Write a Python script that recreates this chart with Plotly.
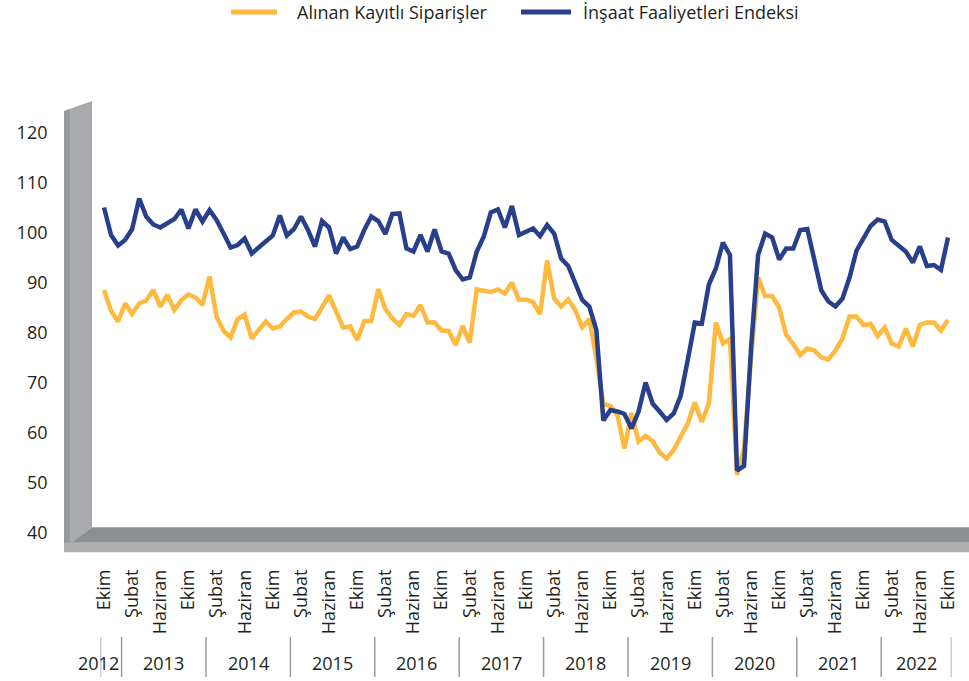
import plotly.graph_objects as go

# ---------------- data ----------------
series_names = ["Alınan Kayıtlı Siparişler", "İnşaat Faaliyetleri Endeksi"]

# monthly values, Ekim 2012 ... Ekim 2022
alinan_siparisler = [
    88.6, 84.4, 82.3, 85.9, 83.8, 85.9, 86.5, 88.6, 85.3, 87.6, 84.6, 86.6,
    87.7, 87.1, 85.6, 91.3, 83.3, 80.4, 79.1, 82.8, 83.7, 78.9, 80.6, 82.3,
    80.9, 81.3, 82.8, 84.1, 84.3, 83.3, 82.8, 85.3, 87.5, 84.3, 81.1, 81.3,
    78.6, 82.4, 82.4, 88.8, 84.8, 82.9, 81.6, 83.8, 83.4, 85.6, 82.1, 82.1,
    80.5, 80.4, 77.6, 81.4, 78.1, 88.7, 88.5, 88.2, 88.7, 87.9, 90.1, 86.6,
    86.7, 86.2, 83.8, 94.5, 86.9, 85.3, 86.7, 84.6, 81.1, 82.8, 75.0, 65.8,
    65.4, 63.6, 56.9, 64.0, 58.3, 59.4, 58.4, 56.1, 54.9, 56.6, 59.3, 61.9,
    66.1, 62.2, 65.9, 82.1, 77.9, 78.8, 51.6, 57.0, 75.0, 91.1, 87.4, 87.4,
    85.1, 79.6, 77.8, 75.6, 76.9, 76.5, 75.1, 74.7, 76.5, 78.9, 83.3, 83.3,
    81.6, 81.8, 79.4, 81.1, 77.9, 77.3, 80.9, 77.3, 81.6, 82.1, 82.1, 80.5,
    82.6,
]
insaat_endeksi = [
    105.1, 99.6, 97.5, 98.6, 100.8, 106.9, 103.3, 101.7, 101.1, 101.9, 102.8, 104.7,
    100.9, 104.7, 102.3, 104.6, 102.6, 99.9, 97.1, 97.6, 98.9, 95.9, 97.1, 98.4,
    99.5, 103.5, 99.5, 100.8, 103.3, 100.6, 97.3, 102.4, 101.1, 95.9, 99.1, 96.8,
    97.3, 100.6, 103.3, 102.4, 99.8, 103.8, 103.9, 96.9, 96.3, 99.6, 96.3, 100.7,
    96.3, 95.9, 92.6, 90.7, 91.1, 96.3, 99.3, 104.1, 104.7, 101.1, 105.4, 99.6,
    100.3, 100.9, 99.4, 101.6, 99.9, 94.9, 93.4, 89.9, 86.6, 85.3, 80.6, 62.5,
    64.6, 64.3, 63.8, 60.9, 64.3, 70.1, 65.9, 64.3, 62.6, 63.9, 67.5, 74.6,
    82.1, 81.9, 89.7, 92.9, 98.1, 95.6, 52.5, 53.4, 77.0, 95.6, 99.9, 99.1,
    94.7, 96.9, 96.9, 100.6, 100.8, 94.6, 88.5, 86.3, 85.3, 86.9, 91.1, 96.5,
    98.9, 101.4, 102.7, 102.3, 98.6, 97.4, 96.3, 94.1, 97.3, 93.4, 93.6, 92.6,
    99.1,
]

# tick labels every 4th month starting Ekim 2012
tick_labels = ["Ekim"] + ["Şubat", "Haziran", "Ekim"] * 10
years = ["2012", "2013", "2014", "2015", "2016", "2017", "2018", "2019",
         "2020", "2021", "2022"]
# months of data in each year (Ekim 2012 .. Ekim 2022)
months_in_year = [3, 12, 12, 12, 12, 12, 12, 12, 12, 12, 10]

y_ticks = [40, 50, 60, 70, 80, 90, 100, 110, 120]

# ---------------- figure ----------------
n = len(insaat_endeksi)
x = list(range(n))
ORANGE = "#FFB93E"
BLUE = "#283F8C"
FONT = "Open Sans"
TXT = "#231F20"

W, H = 969, 681


def fx(v):  # window pixel -> paper x
    return v / W


def fy(v):  # window pixel -> paper y
    return 1 - v / H


fig = go.Figure()
fig.add_trace(go.Scatter(x=x, y=alinan_siparisler, mode="lines", name=series_names[0],
                         line=dict(color=ORANGE, width=4.5), showlegend=False))
fig.add_trace(go.Scatter(x=x, y=insaat_endeksi, mode="lines", name=series_names[1],
                         line=dict(color=BLUE, width=4.5), showlegend=False))

shapes = []
# wall inner face
shapes.append(dict(type="path", xref="paper", yref="paper", layer="below",
                   path=f"M {fx(70.7)} {fy(108.5)} L {fx(92)} {fy(101)} L {fx(92)} {fy(527)} "
                        f"L {fx(70.7)} {fy(545)} Z",
                   fillcolor="#A8AAAD", line=dict(width=0)))
# wall front edge
shapes.append(dict(type="path", xref="paper", yref="paper", layer="below",
                   path=f"M {fx(64)} {fy(111)} L {fx(70.7)} {fy(108.5)} L {fx(70.7)} {fy(552)} "
                        f"L {fx(64)} {fy(552)} Z",
                   fillcolor="#96989B", line=dict(width=0)))
# floor top surface
shapes.append(dict(type="path", xref="paper", yref="paper", layer="below",
                   path=f"M {fx(92)} {fy(527.3)} L {fx(969)} {fy(527.3)} L {fx(969)} {fy(542.7)} "
                        f"L {fx(72)} {fy(542.7)} Z",
                   fillcolor="#8D8E90", line=dict(width=0)))
# floor front edge
shapes.append(dict(type="rect", xref="paper", yref="paper", layer="below",
                   x0=fx(64), x1=fx(969), y0=fy(552.3), y1=fy(542.7),
                   fillcolor="#AFB0B2", line=dict(width=0)))

annotations = []
# legend (drawn manually so the sample lines match the original length)
legend_items = [(series_names[0], ORANGE, 231, 277, 295),
                (series_names[1], BLUE, 521, 571, 581)]
for name, col, l0, l1, tx in legend_items:
    shapes.append(dict(type="line", xref="paper", yref="paper",
                       x0=fx(l0), x1=fx(l1), y0=fy(12), y1=fy(12),
                       line=dict(color=col, width=5)))
    annotations.append(dict(x=fx(tx), y=fy(12), xref="paper", yref="paper", text=name,
                            showarrow=False, xanchor="left", yanchor="middle",
                            font=dict(family=FONT, size=18, color=TXT)))

# year separators and labels
bounds = [-0.5]
start = 0
for cnt in months_in_year:
    start += cnt
    bounds.append(start - 0.5)
for b in bounds:
    shapes.append(dict(type="line", xref="x", yref="paper", x0=b, x1=b,
                       y0=fy(677), y1=fy(637), line=dict(color="#9D9D9D", width=1.5)))
for k, yr in enumerate(years):
    if k == 0:
        xa = dict(x=fx(98.5), xref="paper")
    else:
        xa = dict(x=(bounds[k] + bounds[k + 1]) / 2, xref="x")
    annotations.append(dict(**xa, y=fy(663), yref="paper", text=yr,
                            showarrow=False, xanchor="center", yanchor="middle",
                            font=dict(family=FONT, size=18, color=TXT)))

fig.update_layout(
    width=W, height=H,
    margin=dict(l=0, r=0, t=0, b=0, pad=0),
    paper_bgcolor="white", plot_bgcolor="white",
    showlegend=False,
    shapes=shapes,
    annotations=annotations,
    xaxis=dict(domain=[fx(100.5), fx(951.5)], range=[-0.5, n - 0.5], automargin=False,
               showgrid=False, zeroline=False, showline=False,
               tickmode="array", tickvals=list(range(0, n, 4)), ticktext=tick_labels,
               tickangle=-90, ticks="", ticklabelstandoff=32,
               tickfont=dict(family=FONT, size=18, color=TXT)),
    yaxis=dict(domain=[fy(533), fy(133)], range=[40, 120], automargin=False,
               showgrid=False, zeroline=False, showline=False,
               tickmode="array", tickvals=y_ticks, ticks="", ticklabelstandoff=52,
               tickfont=dict(family=FONT, size=18, color=TXT)),
)

# remove the default 8 px page margin so the figure fills the window exactly
fig.write_html("out.html", config={"displayModeBar": False},
               post_script="document.body.style.margin='0';document.body.style.overflow='hidden';")
